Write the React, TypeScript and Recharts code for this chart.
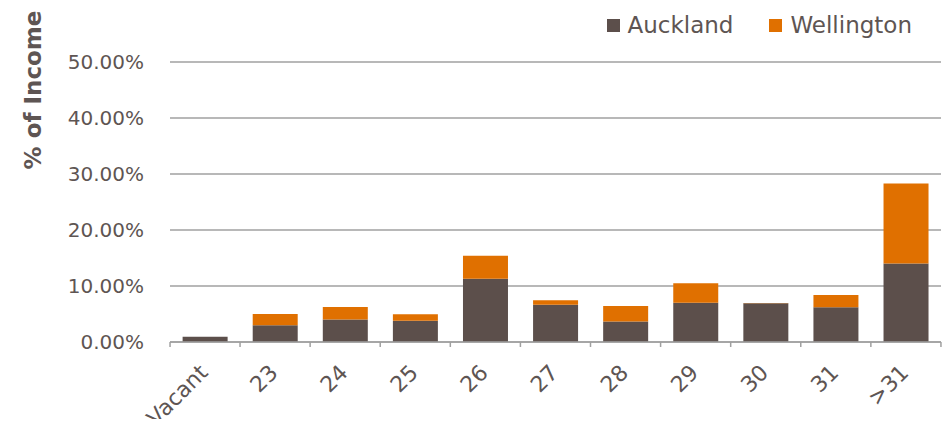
import { BarChart, Bar, XAxis, YAxis, CartesianGrid } from 'recharts';

const categories = ['Vacant', '23', '24', '25', '26', '27', '28', '29', '30', '31', '>31'];
const auckland = [0.95, 3.0, 4.0, 3.8, 11.3, 6.65, 3.65, 7.0, 6.9, 6.2, 14.0];
const wellington = [0, 2.0, 2.25, 1.15, 4.1, 0.8, 2.8, 3.5, 0.05, 2.2, 14.3];
const yTicks = [0, 10, 20, 30, 40, 50];

const textColor = '#5e5553';
const aucklandColor = '#5c4f4b';
const wellingtonColor = '#e07000';
const font = '"DejaVu Sans", sans-serif';

const data = categories.map((c, i) => ({
  name: c,
  Auckland: auckland[i],
  Wellington: wellington[i],
}));

// tick marks sit on the band edges, label is centred and turned 45deg
const XTick = (props: any) => {
  const { x, y, payload, index } = props;
  const half = 35;
  const tx = x + 4;
  const ty = y + 24;
  return (
    <g>
      {index === 0 && <line x1={x - half} x2={x - half} y1={y - 8} y2={y - 3} stroke="#a0a0a0" strokeWidth={1.5} />}
      <line x1={x + half} x2={x + half} y1={y - 8} y2={y - 3} stroke="#a0a0a0" strokeWidth={1.5} />
      <text
        x={tx}
        y={ty}
        textAnchor="end"
        fill={textColor}
        fontSize={22}
        fontFamily={font}
        transform={`rotate(-45 ${tx} ${ty})`}
      >
        {payload.value}
      </text>
    </g>
  );
};

const LegendBox = () => (
  <div
    style={{
      position: 'absolute',
      top: 12,
      right: 38,
      display: 'flex',
      gap: 36,
      fontFamily: font,
      fontSize: 23,
      color: textColor,
    }}
  >
    {[
      ['Auckland', aucklandColor],
      ['Wellington', wellingtonColor],
    ].map(([label, color]) => (
      <div key={label} style={{ display: 'flex', alignItems: 'center', gap: 8 }}>
        <span style={{ width: 13, height: 13, background: color, display: 'inline-block' }} />
        <span>{label}</span>
      </div>
    ))}
  </div>
);

export default function App() {
  return (
    <div style={{ margin: -8, width: 950, height: 427, background: '#fff', position: 'relative', overflow: 'hidden' }}>
      <BarChart
        width={950}
        height={427}
        data={data}
        margin={{ top: 62, right: 9, left: 0, bottom: 55 }}
        barCategoryGap="18%"
      >
        <CartesianGrid vertical={false} stroke="#a0a0a0" strokeWidth={1.5} />
        <XAxis
          dataKey="name"
          interval={0}
          tickLine={false}
          axisLine={{ stroke: '#a0a0a0', strokeWidth: 1.5 }}
          tick={<XTick />}
        />
        <YAxis
          domain={[0, 50]}
          ticks={yTicks}
          width={170}
          axisLine={false}
          tickLine={false}
          tickMargin={20}
          tickFormatter={(v: number) => v.toFixed(2) + '%'}
          tick={{ fill: textColor, fontSize: 20, fontFamily: font }}
          label={{
            content: () => (
              <text
                x={33}
                y={90}
                textAnchor="middle"
                dominantBaseline="central"
                fill={textColor}
                fontSize={23}
                fontWeight="bold"
                fontFamily={font}
                transform="rotate(-90 33 90)"
              >
                % of Income
              </text>
            ),
          }}
        />
        <Bar dataKey="Auckland" stackId="a" fill={aucklandColor} isAnimationActive={false} />
        <Bar dataKey="Wellington" stackId="a" fill={wellingtonColor} isAnimationActive={false} />
      </BarChart>
      <LegendBox />
    </div>
  );
}
